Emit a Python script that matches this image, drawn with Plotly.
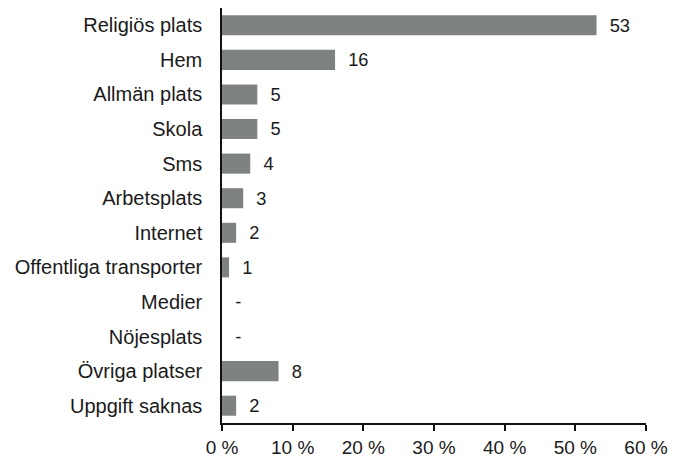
import plotly.graph_objects as go

kategorier = ["Religiös plats", "Hem", "Allmän plats", "Skola", "Sms", "Arbetsplats",
              "Internet", "Offentliga transporter", "Medier", "Nöjesplats",
              "Övriga platser", "Uppgift saknas"]
andel = [53, 16, 5, 5, 4, 3, 2, 1, 0, 0, 8, 2]
x_ticks = [0, 10, 20, 30, 40, 50, 60]
x_ticktext = ["0 %", "10 %", "20 %", "30 %", "40 %", "50 %", "60 %"]

etiketter = ["  " + (str(v) if v > 0 else "-") for v in andel]

fig = go.Figure()

fig.add_trace(
    go.Bar(
        x=andel,
        y=kategorier,
        orientation="h",
        marker=dict(color="#7f8380", line=dict(width=0)),
        text=etiketter,
        textposition="outside",
        textfont=dict(size=20, color="#1a1a1a"),
        cliponaxis=False,
        hoverinfo="skip"
    )
)

fig.update_layout(
    width=686,
    height=464,
    margin=dict(l=214, r=48, t=0, b=49),
    plot_bgcolor="white",
    paper_bgcolor="white",
    showlegend=False,
    bargap=0.42,
    font=dict(family="Liberation Sans, Arial, sans-serif", size=20, color="#1a1a1a"),

    xaxis=dict(
        range=[0, 60],
        tickvals=x_ticks,
        ticktext=x_ticktext,
        showgrid=False,
        zeroline=False,
        showline=True,
        linecolor="#111111",
        linewidth=1.5,
        ticks="outside",
        ticklen=6,
        tickcolor="#111111",
        tickwidth=1.5,
        tickfont=dict(size=19)
    ),

    yaxis=dict(
        categoryorder="array",
        categoryarray=kategorier[::-1],
        showgrid=False,
        zeroline=False,
        showline=True,
        linecolor="#111111",
        linewidth=1.5,
        ticks="",
        ticklabelstandoff=14,
        tickfont=dict(size=20)
    )
)

fig.write_html("out.html")
